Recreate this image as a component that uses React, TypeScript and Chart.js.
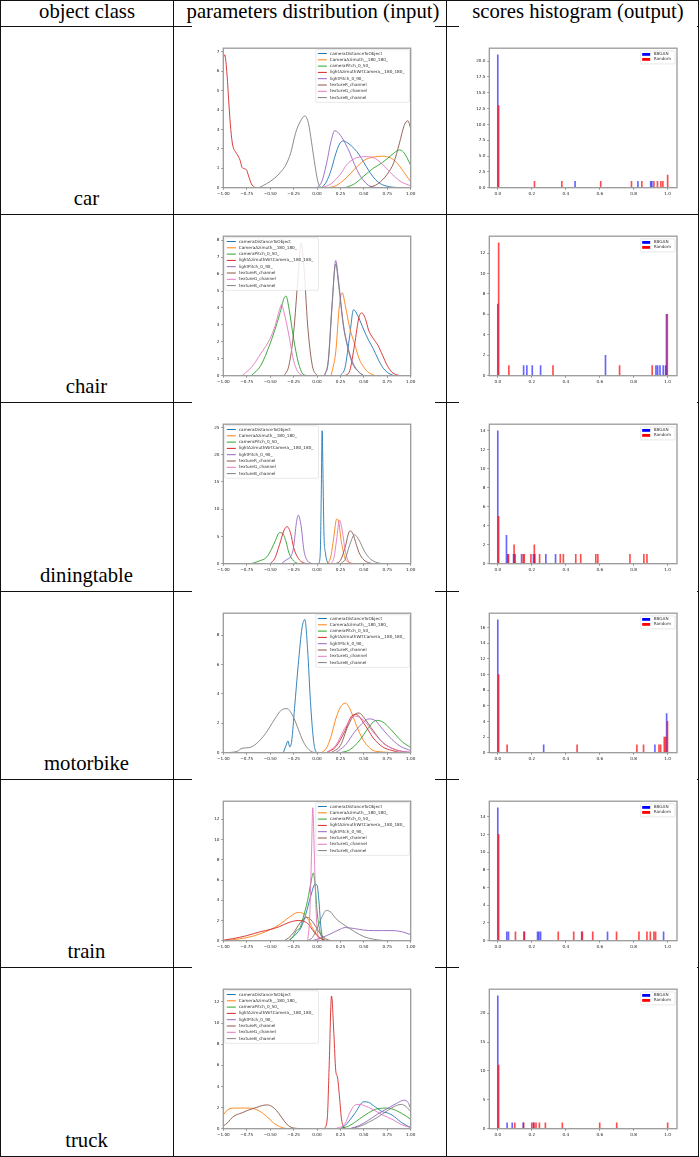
import React, { useEffect, useRef } from 'react';
import { Chart, registerables } from 'chart.js';
Chart.register(...registerables);
Chart.defaults.font.family = '"DejaVu Sans"';

type P = [number, number][];

const headerLabels = ['object class', 'parameters distribution (input)', 'scores histogram (output)'];
const classNames = ['car', 'chair', 'diningtable', 'motorbike', 'train', 'truck'];
const paramNames = [
  'cameraDistanceToObject',
  'CameraAzimuth__180_180_',
  'cameraPitch_0_50_',
  'lightAzimuthWrtCamera__180_180_',
  'lightPitch_0_90_',
  'textureR_channel',
  'textureG_channel',
  'textureB_channel',
];
const paramColors = ['#1f77b4', '#ff7f0e', '#2ca02c', '#d62728', '#9467bd', '#8c564b', '#e377c2', '#7f7f7f'];
const histNames = ['BBGAN', 'Random'];
const histColors = ['#0000ff', '#ff0000'];
const histBarColors = ['rgba(0,0,255,0.6)', 'rgba(255,0,0,0.7)'];

// ---- KDE curves (x, density) per parameter, in paramNames order ----
const carKde: P[] = [
  [[0.05, 0], [0.1, 0.3], [0.15, 0.9], [0.2, 1.75], [0.24, 2.25], [0.28, 2.41], [0.33, 2.3], [0.4, 2.0], [0.45, 1.7], [0.5, 1.3], [0.55, 0.9], [0.6, 0.55], [0.65, 0.3], [0.7, 0.15], [0.8, 0.03], [0.9, 0]],
  [[0.12, 0], [0.2, 0.1], [0.3, 0.45], [0.4, 0.95], [0.5, 1.4], [0.6, 1.58], [0.7, 1.62], [0.78, 1.55], [0.85, 1.3], [0.92, 0.85], [1.0, 0.3]],
  [[0.3, 0], [0.4, 0.2], [0.5, 0.6], [0.6, 1.0], [0.7, 1.3], [0.8, 1.7], [0.88, 1.95], [0.92, 1.85], [0.96, 1.55], [1.0, 1.15]],
  [[-1, 6.7], [-0.985, 6.85], [-0.96, 5.8], [-0.94, 4.3], [-0.92, 3.0], [-0.9, 2.2], [-0.87, 1.85], [-0.85, 1.7], [-0.82, 1.4], [-0.8, 1.05], [-0.77, 0.97], [-0.75, 0.9], [-0.73, 0.6], [-0.7, 0.2], [-0.67, 0.03], [-0.64, 0]],
  [[0.0, 0], [0.05, 0.3], [0.1, 1.2], [0.15, 2.4], [0.19, 2.94], [0.25, 2.7], [0.3, 2.3], [0.35, 1.8], [0.4, 1.2], [0.45, 0.7], [0.5, 0.35], [0.55, 0.12], [0.6, 0.03], [0.65, 0]],
  [[0.55, 0], [0.65, 0.2], [0.75, 0.7], [0.82, 1.3], [0.88, 2.3], [0.93, 3.2], [0.97, 3.45], [1.0, 3.05]],
  [[0.05, 0], [0.15, 0.2], [0.25, 0.7], [0.32, 1.2], [0.4, 1.5], [0.5, 1.6], [0.6, 1.55], [0.7, 1.2], [0.8, 0.7], [0.9, 0.3], [1.0, 0.1]],
  [[-0.62, 0], [-0.54, 0.2], [-0.45, 0.5], [-0.38, 0.85], [-0.33, 1.2], [-0.28, 1.8], [-0.23, 2.8], [-0.18, 3.4], [-0.13, 3.7], [-0.09, 3.3], [-0.06, 2.4], [-0.02, 1.1], [0.01, 0.3], [0.04, 0]],
];
const chairKde: P[] = [
  [[0.25, 0], [0.3, 0.5], [0.35, 2.4], [0.39, 3.9], [0.43, 3.6], [0.5, 2.7], [0.55, 2.1], [0.6, 1.6], [0.65, 1.0], [0.7, 0.5], [0.75, 0.2], [0.82, 0]],
  [[0.15, 0], [0.2, 1.4], [0.24, 4.2], [0.27, 4.9], [0.3, 4.2], [0.35, 2.8], [0.4, 1.9], [0.45, 1.0], [0.5, 0.5], [0.55, 0.2], [0.62, 0]],
  [[-0.7, 0], [-0.6, 0.6], [-0.5, 1.9], [-0.45, 2.7], [-0.4, 3.6], [-0.35, 4.6], [-0.33, 4.7], [-0.3, 4.0], [-0.25, 2.2], [-0.2, 0.8], [-0.15, 0.1], [-0.1, 0]],
  [[0.3, 0], [0.35, 0.3], [0.4, 1.8], [0.45, 3.5], [0.48, 3.7], [0.52, 3.3], [0.55, 2.7], [0.6, 2.2], [0.65, 1.8], [0.7, 1.2], [0.75, 0.6], [0.8, 0.2], [0.88, 0]],
  [[0.08, 0], [0.12, 0.8], [0.16, 4.0], [0.2, 6.8], [0.23, 5.6], [0.28, 3.1], [0.33, 1.7], [0.38, 0.8], [0.45, 0.2], [0.5, 0]],
  [[-0.35, 0], [-0.3, 0.6], [-0.25, 2.5], [-0.2, 6.0], [-0.17, 7.85], [-0.14, 6.5], [-0.1, 3.0], [-0.05, 0.6], [0.0, 0]],
  [[-0.8, 0], [-0.7, 0.5], [-0.6, 1.3], [-0.5, 2.2], [-0.45, 2.9], [-0.4, 3.9], [-0.38, 4.2], [-0.35, 3.7], [-0.3, 2.4], [-0.25, 0.9], [-0.2, 0.2], [-0.15, 0]],
  [[0.08, 0], [0.12, 0.9], [0.16, 4.2], [0.2, 6.6], [0.23, 5.4], [0.28, 3.0], [0.33, 1.6], [0.38, 0.7], [0.45, 0.2], [0.5, 0]],
];
const diningtableKde: P[] = [
  [[0.02, 0], [0.035, 2], [0.045, 12], [0.055, 24.4], [0.065, 15], [0.075, 5], [0.09, 2], [0.11, 0.3], [0.13, 0]],
  [[0.12, 0], [0.15, 1.5], [0.18, 5.0], [0.21, 8.2], [0.23, 7.8], [0.26, 4.0], [0.3, 1.0], [0.35, 0.2], [0.4, 0]],
  [[-0.7, 0], [-0.6, 0.6], [-0.55, 1.0], [-0.5, 2.2], [-0.45, 4.0], [-0.4, 5.7], [-0.37, 5.6], [-0.33, 4.0], [-0.3, 2.0], [-0.25, 0.5], [-0.2, 0]],
  [[-0.5, 0], [-0.45, 1.0], [-0.4, 3.5], [-0.35, 6.2], [-0.32, 6.8], [-0.28, 5.5], [-0.25, 3.0], [-0.2, 1.0], [-0.15, 0.2], [-0.1, 0]],
  [[-0.38, 0], [-0.32, 0.8], [-0.28, 1.3], [-0.25, 3.0], [-0.22, 7.5], [-0.2, 8.9], [-0.17, 7.0], [-0.14, 2.5], [-0.1, 0.5], [-0.05, 0]],
  [[0.2, 0], [0.25, 0.6], [0.3, 3.0], [0.35, 6.0], [0.38, 5.6], [0.42, 3.5], [0.45, 2.0], [0.5, 0.7], [0.55, 0.2], [0.6, 0]],
  [[0.15, 0], [0.18, 1.0], [0.21, 4.5], [0.24, 8.0], [0.27, 6.0], [0.3, 2.5], [0.33, 0.6], [0.37, 0]],
  [[0.25, 0], [0.3, 0.8], [0.35, 3.5], [0.4, 5.3], [0.45, 4.3], [0.5, 2.5], [0.55, 1.2], [0.6, 0.5], [0.65, 0.15], [0.7, 0]],
];
const motorbikeKde: P[] = [
  [[-0.36, 0], [-0.33, 0.5], [-0.31, 0.8], [-0.29, 0.4], [-0.27, 0.8], [-0.24, 3.0], [-0.2, 6.0], [-0.16, 8.5], [-0.13, 9.07], [-0.1, 7.0], [-0.07, 3.5], [-0.04, 1.0], [-0.02, 0.2], [0.0, 0]],
  [[0.05, 0], [0.1, 0.3], [0.15, 1.1], [0.2, 2.3], [0.25, 3.1], [0.3, 3.38], [0.35, 3.0], [0.4, 2.2], [0.45, 1.4], [0.5, 0.8], [0.55, 0.4], [0.6, 0.15], [0.7, 0.05], [0.8, 0]],
  [[0.25, 0], [0.35, 0.2], [0.45, 0.8], [0.55, 1.7], [0.63, 2.2], [0.7, 2.1], [0.8, 1.5], [0.9, 0.8], [1.0, 0.35]],
  [[0.1, 0], [0.2, 0.4], [0.3, 1.5], [0.37, 2.5], [0.42, 2.6], [0.5, 2.0], [0.55, 1.5], [0.6, 1.0], [0.7, 0.4], [0.8, 0.15], [0.9, 0]],
  [[0.2, 0], [0.3, 0.5], [0.4, 1.4], [0.5, 2.1], [0.55, 2.3], [0.62, 2.2], [0.7, 1.6], [0.8, 0.9], [0.9, 0.4], [1.0, 0.15]],
  [[0.15, 0], [0.25, 0.5], [0.33, 1.8], [0.4, 2.6], [0.45, 2.7], [0.5, 2.4], [0.6, 1.5], [0.7, 0.7], [0.8, 0.3], [0.9, 0.1], [1.0, 0]],
  [[0.1, 0], [0.2, 0.5], [0.3, 1.7], [0.4, 2.5], [0.5, 2.2], [0.6, 1.4], [0.7, 0.7], [0.8, 0.3], [0.9, 0.1], [1.0, 0.05]],
  [[-0.95, 0], [-0.85, 0.1], [-0.8, 0.3], [-0.72, 0.35], [-0.65, 0.6], [-0.55, 1.3], [-0.45, 2.3], [-0.38, 2.9], [-0.32, 3.0], [-0.25, 2.4], [-0.2, 1.6], [-0.15, 0.8], [-0.1, 0.3], [-0.05, 0.05], [0, 0]],
];
const trainKde: P[] = [
  [[-0.3, 0], [-0.25, 0.4], [-0.2, 0.9], [-0.17, 1.3], [-0.12, 2.6], [-0.07, 4.3], [-0.02, 5.6], [0.0, 5.5], [0.02, 4.0], [0.04, 1.5], [0.06, 0.3], [0.08, 0]],
  [[-1.0, 0], [-0.9, 0.1], [-0.75, 0.3], [-0.6, 0.7], [-0.5, 1.1], [-0.4, 1.6], [-0.3, 2.3], [-0.2, 2.8], [-0.15, 2.7], [-0.1, 2.2], [-0.05, 1.3], [0.0, 0.6], [0.05, 0.2], [0.1, 0]],
  [[-0.3, 0], [-0.25, 0.5], [-0.22, 1.0], [-0.18, 1.3], [-0.15, 2.2], [-0.1, 4.0], [-0.06, 6.0], [-0.04, 6.7], [-0.02, 5.5], [0.0, 3.0], [0.03, 1.0], [0.06, 0.2], [0.1, 0]],
  [[-1.0, 0.05], [-0.9, 0.2], [-0.75, 0.5], [-0.6, 0.9], [-0.5, 1.1], [-0.4, 1.4], [-0.3, 1.8], [-0.2, 2.0], [-0.15, 1.95], [-0.1, 1.7], [-0.05, 1.1], [0.0, 0.5], [0.05, 0.15], [0.1, 0]],
  [[-0.05, 0], [0.05, 0.3], [0.15, 0.7], [0.25, 1.15], [0.3, 1.3], [0.4, 1.2], [0.5, 1.05], [0.6, 1.0], [0.7, 1.0], [0.8, 1.0], [0.9, 0.9], [1.0, 0.6]],
  [[-0.35, 0], [-0.3, 0.3], [-0.25, 0.8], [-0.2, 1.5], [-0.15, 2.1], [-0.1, 2.3], [-0.05, 1.9], [0.0, 1.2], [0.05, 0.5], [0.1, 0.15], [0.15, 0]],
  [[-0.1, 0], [-0.08, 2], [-0.06, 8], [-0.045, 13.15], [-0.03, 9], [-0.01, 3], [0.01, 0.5], [0.03, 0]],
  [[-0.1, 0], [-0.05, 0.3], [0.0, 1.2], [0.05, 2.3], [0.1, 3.0], [0.15, 2.8], [0.2, 2.2], [0.3, 1.5], [0.4, 0.9], [0.5, 0.4], [0.6, 0.15], [0.7, 0.03], [0.8, 0]],
];
const truckKde: P[] = [
  [[0.25, 0], [0.3, 0.3], [0.4, 1.4], [0.5, 2.55], [0.55, 2.5], [0.6, 2.2], [0.7, 1.6], [0.75, 1.5], [0.8, 1.3], [0.9, 0.6], [1.0, 0.1]],
  [[-1.0, 1.3], [-0.97, 1.65], [-0.93, 1.9], [-0.88, 1.95], [-0.8, 1.95], [-0.72, 1.95], [-0.66, 1.85], [-0.6, 1.6], [-0.55, 1.25], [-0.5, 0.85], [-0.45, 0.45], [-0.4, 0.2], [-0.35, 0.05], [-0.3, 0]],
  [[0.25, 0], [0.35, 0.3], [0.45, 0.9], [0.55, 1.5], [0.65, 1.9], [0.75, 1.95], [0.85, 1.7], [0.95, 1.2], [1.0, 0.9]],
  [[0.08, 0], [0.11, 1.0], [0.13, 6.0], [0.155, 12.55], [0.18, 9.0], [0.2, 5.5], [0.22, 4.8], [0.24, 3.0], [0.26, 1.0], [0.28, 0.2], [0.3, 0]],
  [[0.35, 0], [0.45, 0.3], [0.55, 0.8], [0.65, 1.4], [0.75, 1.9], [0.85, 2.4], [0.93, 2.7], [0.97, 2.5], [1.0, 1.9]],
  [[-1.0, 0.25], [-0.95, 0.6], [-0.9, 1.1], [-0.85, 1.35], [-0.8, 1.5], [-0.75, 1.7], [-0.65, 2.0], [-0.58, 2.2], [-0.53, 2.25], [-0.48, 2.1], [-0.43, 1.7], [-0.38, 1.1], [-0.33, 0.5], [-0.28, 0.15], [-0.22, 0.03], [-0.15, 0]],
  [[0.2, 0], [0.3, 0.5], [0.35, 1.5], [0.4, 2.2], [0.45, 2.3], [0.5, 2.2], [0.6, 1.8], [0.7, 1.3], [0.8, 0.9], [0.9, 0.4], [1.0, 0.1]],
  [[0.35, 0], [0.45, 0.2], [0.55, 0.6], [0.65, 1.1], [0.75, 1.7], [0.85, 2.2], [0.9, 2.3], [0.95, 2.1], [1.0, 1.6]],
];

// ---- score histograms: [score bin, count] ----
const carBbgan: P = [[0.0, 21], [0.455, 1], [0.825, 1], [0.9, 1], [0.907, 1]];
const carRandom: P = [[0.005, 13], [0.216, 1], [0.377, 1], [0.606, 1], [0.787, 1], [0.848, 1], [0.919, 1], [0.94, 1], [0.96, 1], [0.972, 1], [1.0, 2]];
const chairBbgan: P = [[0.0, 7], [0.152, 1], [0.171, 1], [0.203, 1], [0.252, 1], [0.634, 2], [0.931, 1], [0.941, 1], [0.955, 1], [0.974, 1], [0.988, 1], [0.993, 6]];
const chairRandom: P = [[0.005, 13], [0.065, 1], [0.325, 1], [0.717, 1], [0.909, 1], [0.998, 6]];
const diningtableBbgan: P = [[0.0, 14], [0.051, 3], [0.059, 1], [0.093, 1], [0.102, 1], [0.14, 1], [0.21, 1], [0.218, 1], [0.283, 1], [0.34, 1]];
const diningtableRandom: P = [[0.005, 5], [0.063, 1], [0.096, 2], [0.15, 1], [0.156, 1], [0.195, 1], [0.215, 2], [0.246, 1], [0.368, 1], [0.386, 1], [0.459, 1], [0.488, 1], [0.577, 1], [0.589, 1], [0.778, 1], [0.86, 1], [0.878, 1]];
const motorbikeBbgan: P = [[0.0, 17], [0.27, 1], [0.925, 1], [0.994, 5]];
const motorbikeRandom: P = [[0.005, 10], [0.055, 1], [0.467, 1], [0.819, 1], [0.858, 1], [0.949, 1], [0.959, 1], [0.98, 2], [0.988, 2], [0.999, 4]];
const trainBbgan: P = [[0.0, 15], [0.053, 1], [0.063, 1], [0.154, 1], [0.234, 1], [0.242, 1], [0.252, 1], [0.494, 1], [0.646, 1], [0.976, 1]];
const trainRandom: P = [[0.005, 12], [0.104, 1], [0.157, 1], [0.356, 1], [0.447, 1], [0.498, 1], [0.559, 1], [0.699, 1], [0.831, 1], [0.878, 1], [0.898, 1], [0.919, 1], [0.929, 1]];
const truckBbgan: P = [[0.0, 23], [0.055, 1], [0.085, 1], [0.15, 1], [0.21, 1]];
const truckRandom: P = [[0.005, 11], [0.1, 1], [0.152, 1], [0.2, 1], [0.213, 1], [0.225, 1], [0.245, 1], [0.28, 1], [0.38, 1], [0.6, 1], [0.7, 1], [1.0, 1]];

// ---- axis settings per row ----
const kdeYMax = [7.19, 8.24, 25.6, 9.5, 13.8, 13.2];
const kdeYStep = [1, 1, 5, 2, 2, 2];
const kdeLegendSide = ['right', 'left', 'left', 'right', 'right', 'left'];
const histYMax = [22.05, 13.65, 14.7, 17.85, 15.75, 24.15];
const histYStep = [2.5, 2, 2, 2, 2, 5];
const histYDecimals = [1, 0, 0, 0, 0, 0];

const kdeRows = [carKde, chairKde, diningtableKde, motorbikeKde, trainKde, truckKde];
const bbganRows = [carBbgan, chairBbgan, diningtableBbgan, motorbikeBbgan, trainBbgan, truckBbgan];
const randomRows = [carRandom, chairRandom, diningtableRandom, motorbikeRandom, trainRandom, truckRandom];

// ---- layout ----
const ROW_TOPS = [26, 214, 402, 591, 779, 967];
const TABLE_BOTTOM = 1156;
const V_LINES = [0, 173, 446, 698];
const PLOT_TOP_OFF = 22.2;
const PLOT_BOTTOM_OFF = 161.7;
const KDE_PLOT = { left: 223.3, right: 410.7, cLeft: 192, cRight: 435 };
const HIST_PLOT = { left: 489.3, right: 677, cLeft: 459, cRight: 697 };
const Y_AXIS_W = 25;
const X_AXIS_H = 15;
const TICK_FONT = 4.2;
const LEGEND_FONT = 4.2;
const SERIF = '"Liberation Serif", "Times New Roman", serif';

const fmt = (v: number, d: number) => {
  const s = Math.abs(v) < 1e-9 ? (0).toFixed(d) : v.toFixed(d);
  return s.replace('-', '\u2212');
};

function axisCommon(dec: number, step: number, min: number, max: number, isX: boolean) {
  return {
    type: 'linear' as const,
    min,
    max,
    offset: false,
    afterFit: (s: any) => {
      if (isX) s.height = X_AXIS_H;
      else s.width = Y_AXIS_W;
    },
    ticks: {
      stepSize: step,
      autoSkip: false,
      maxRotation: 0,
      includeBounds: false,
      color: '#222',
      padding: isX ? 1.5 : 1.8,
      font: { size: TICK_FONT },
      callback: (v: any) => fmt(Number(v), dec),
    },
    grid: { drawOnChartArea: false, drawTicks: true, tickLength: 2, color: '#444', lineWidth: 0.6, offset: false },
    border: { display: false },
  };
}

function roundRect(ctx: CanvasRenderingContext2D, x: number, y: number, w: number, h: number, r: number) {
  ctx.beginPath();
  ctx.moveTo(x + r, y);
  ctx.lineTo(x + w - r, y);
  ctx.quadraticCurveTo(x + w, y, x + w, y + r);
  ctx.lineTo(x + w, y + h - r);
  ctx.quadraticCurveTo(x + w, y + h, x + w - r, y + h);
  ctx.lineTo(x + r, y + h);
  ctx.quadraticCurveTo(x, y + h, x, y + h - r);
  ctx.lineTo(x, y + r);
  ctx.quadraticCurveTo(x, y, x + r, y);
  ctx.closePath();
}

const bgPlugin = {
  id: 'bg',
  beforeDraw(chart: any) {
    const ctx = chart.ctx;
    ctx.save();
    ctx.fillStyle = '#fff';
    ctx.fillRect(0, 0, chart.width, chart.height);
    ctx.restore();
  },
};

function framePlugin(kind: 'kde' | 'hist', side: string) {
  return {
    id: 'frameLegend',
    afterDraw(chart: any) {
      const ctx: CanvasRenderingContext2D = chart.ctx;
      const a = chart.chartArea;
      ctx.save();
      ctx.strokeStyle = '#9a9a9a';
      ctx.lineWidth = 1.3;
      ctx.strokeRect(a.left, a.top, a.right - a.left, a.bottom - a.top);
      ctx.font = `${LEGEND_FONT}px "DejaVu Sans"`;
      ctx.textBaseline = 'middle';
      ctx.textAlign = 'left';
      if (kind === 'kde') {
        const maxW = Math.max(...paramNames.map((n) => ctx.measureText(n).width));
        const rowH = 6.3;
        const w = 14 + maxW + 5;
        const h = 3.8 + (paramNames.length - 1) * rowH + 4.7;
        const x0 = side === 'right' ? a.right - 1.2 - w : a.left + 1.5;
        const y0 = a.top + 1.5;
        roundRect(ctx, x0, y0, w, h, 1.2);
        ctx.fillStyle = 'rgba(255,255,255,0.85)';
        ctx.fill();
        ctx.strokeStyle = '#d8d8d8';
        ctx.lineWidth = 0.6;
        ctx.stroke();
        paramNames.forEach((n, i) => {
          const cy = y0 + 3.8 + i * rowH;
          ctx.strokeStyle = paramColors[i];
          ctx.lineWidth = 1;
          ctx.beginPath();
          ctx.moveTo(x0 + 2, cy);
          ctx.lineTo(x0 + 11, cy);
          ctx.stroke();
          ctx.fillStyle = '#333';
          ctx.fillText(n, x0 + 14, cy);
        });
      } else {
        const maxW = Math.max(...histNames.map((n) => ctx.measureText(n).width));
        const rowH = 5;
        const w = 13 + maxW + 4;
        const h = 13;
        const x0 = a.right - 2 - w;
        const y0 = a.top + 2.7;
        roundRect(ctx, x0, y0, w, h, 1);
        ctx.fillStyle = 'rgba(255,255,255,0.85)';
        ctx.fill();
        ctx.strokeStyle = '#d8d8d8';
        ctx.lineWidth = 0.6;
        ctx.stroke();
        histNames.forEach((n, i) => {
          const cy = y0 + 3.5 + i * rowH;
          ctx.fillStyle = histColors[i];
          ctx.fillRect(x0 + 1.5, cy - 1.4, 8, 2.8);
          ctx.fillStyle = '#333';
          ctx.fillText(n, x0 + 13, cy);
        });
      }
      ctx.restore();
    },
  };
}

function kdeConfig(row: number, pad: any) {
  const kde = kdeRows[row];
  return {
    type: 'line' as const,
    data: {
      datasets: kde.map((pts, i) => ({
        label: paramNames[i],
        data: pts.map(([x, y]) => ({ x, y })),
        borderColor: paramColors[i],
        borderWidth: 0.9,
        pointRadius: 0,
        fill: false,
        cubicInterpolationMode: 'monotone' as const,
        order: kde.length - i,
      })),
    },
    options: {
      animation: false as const,
      responsive: false,
      maintainAspectRatio: false,
      devicePixelRatio: 1,
      events: [],
      layout: { padding: pad },
      plugins: { legend: { display: false }, tooltip: { enabled: false } },
      scales: {
        x: axisCommon(2, 0.25, -1, 1, true),
        y: axisCommon(0, kdeYStep[row], 0, kdeYMax[row], false),
      },
    },
    plugins: [bgPlugin, framePlugin('kde', kdeLegendSide[row])],
  };
}

function histConfig(row: number, pad: any) {
  const series = [bbganRows[row], randomRows[row]];
  return {
    type: 'bar' as const,
    data: {
      datasets: series.map((pts, i) => ({
        label: histNames[i],
        data: pts.map(([x, y]) => ({ x, y })),
        backgroundColor: histBarColors[i],
        barThickness: 1,
        grouped: false,
        order: series.length - i,
      })),
    },
    options: {
      animation: false as const,
      responsive: false,
      maintainAspectRatio: false,
      devicePixelRatio: 1,
      events: [],
      layout: { padding: pad },
      plugins: { legend: { display: false }, tooltip: { enabled: false } },
      scales: {
        x: axisCommon(1, 0.2, -0.05, 1.055, true),
        y: axisCommon(histYDecimals[row], histYStep[row], 0, histYMax[row], false),
      },
    },
    plugins: [bgPlugin, framePlugin('hist', 'right')],
  };
}

function ChartBox(props: { left: number; top: number; width: number; height: number; build: () => any }) {
  const ref = useRef<HTMLCanvasElement>(null);
  useEffect(() => {
    const chart = new Chart(ref.current as HTMLCanvasElement, props.build());
    return () => chart.destroy();
  }, []);
  return (
    <canvas
      ref={ref}
      width={props.width}
      height={props.height}
      style={{ position: 'absolute', left: props.left, top: props.top, width: props.width, height: props.height }}
    />
  );
}

export default function App() {
  const hLines = [0, ...ROW_TOPS, TABLE_BOTTOM];
  const rowBottoms = [...ROW_TOPS.slice(1), TABLE_BOTTOM];
  const headerCenters = [87, 313, 578];
  return (
    <div style={{ position: 'absolute', left: 0, top: 0, width: 700, height: 1157, background: '#fff', overflow: 'hidden' }}>
      <style>{'body{margin:0;background:#fff}'}</style>
      {hLines.map((y, i) => (
        <div key={'h' + i} style={{ position: 'absolute', left: 0, top: y, width: 699, height: 1, background: '#111' }} />
      ))}
      {V_LINES.map((x, i) => (
        <div key={'v' + i} style={{ position: 'absolute', left: x, top: 0, width: 1, height: TABLE_BOTTOM + 1, background: '#111' }} />
      ))}
      {headerLabels.map((t, i) => (
        <div
          key={'t' + i}
          style={{
            position: 'absolute',
            left: headerCenters[i] - 150,
            width: 300,
            top: 1.2,
            textAlign: 'center',
            fontFamily: SERIF,
            fontSize: 20.7,
            lineHeight: '20.7px',
            color: '#000',
            whiteSpace: 'nowrap',
          }}
        >
          {t}
        </div>
      ))}
      {classNames.map((c, r) => {
        const rowTop = ROW_TOPS[r];
        const cover = r !== 1;
        const cTop = cover ? rowTop - 1 : rowTop + 1;
        const cBottom = rowTop + 186;
        const h = cBottom - cTop;
        const padTop = rowTop + PLOT_TOP_OFF - cTop;
        const padBottom = cBottom - (rowTop + PLOT_BOTTOM_OFF) - X_AXIS_H;
        const kdePad = {
          left: KDE_PLOT.left - KDE_PLOT.cLeft - Y_AXIS_W,
          right: KDE_PLOT.cRight - KDE_PLOT.right,
          top: padTop,
          bottom: padBottom,
        };
        const histPad = {
          left: HIST_PLOT.left - HIST_PLOT.cLeft - Y_AXIS_W,
          right: HIST_PLOT.cRight - HIST_PLOT.right,
          top: padTop,
          bottom: padBottom,
        };
        return (
          <React.Fragment key={c}>
            <div
              style={{
                position: 'absolute',
                left: 0,
                width: 173,
                top: rowBottoms[r] - 26,
                textAlign: 'center',
                fontFamily: SERIF,
                fontSize: 20.7,
                lineHeight: '20.7px',
                color: '#000',
              }}
            >
              {c}
            </div>
            <ChartBox
              left={KDE_PLOT.cLeft}
              top={cTop}
              width={KDE_PLOT.cRight - KDE_PLOT.cLeft}
              height={h}
              build={() => kdeConfig(r, kdePad)}
            />
            <ChartBox
              left={HIST_PLOT.cLeft}
              top={cTop}
              width={HIST_PLOT.cRight - HIST_PLOT.cLeft}
              height={h}
              build={() => histConfig(r, histPad)}
            />
          </React.Fragment>
        );
      })}
    </div>
  );
}
